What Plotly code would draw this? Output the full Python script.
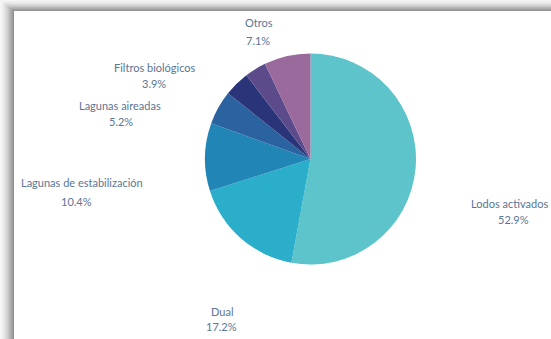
import plotly.graph_objects as go

W, H = 551, 339

# ---- data ----
categories = ["Lodos activados", "Dual", "Lagunas de estabilización",
              "Lagunas aireadas", "Filtros biológicos", "", "Otros"]
values = [52.9, 17.2, 10.4, 5.2, 3.9, 3.3, 7.1]
colors = ["#5CC4CA", "#2BAEC9", "#2185B5", "#2B62A0", "#2A3478", "#5C4B8A", "#9A6A9D"]

# label positions (pixels): name centre (x, y), value centre (x, y)
name_pos = {"Lodos activados": (510, 203), "Dual": (222, 311),
            "Lagunas de estabilización": (82, 183), "Lagunas aireadas": (120, 105),
            "Filtros biológicos": (155, 67), "Otros": (259, 23)}
value_pos = {"Lodos activados": (513, 219), "Dual": (221, 326),
             "Lagunas de estabilización": (76, 201), "Lagunas aireadas": (121, 122),
             "Filtros biológicos": (154, 83), "Otros": (258, 40)}

def px(x):
    return x / W

def py(y):
    return 1 - y / H

cx, cy, r = 310.5, 159, 105.5

fig = go.Figure(go.Pie(
    labels=[c if c else " " for c in categories],
    values=values,
    marker=dict(colors=colors, line=dict(width=0)),
    sort=False,
    direction="clockwise",
    rotation=0,
    textinfo="none",
    hoverinfo="label+percent",
    showlegend=False,
    domain=dict(x=[px(cx - r), px(cx + r)], y=[py(cy + r), py(cy - r)]),
))

shapes = []
# shadow frame on left/top
n = 14
for i in range(n):
    t = i / (n - 1)
    g = int(246 - (246 - 145) * t ** 1.5)
    shapes.append(dict(type="rect", xref="paper", yref="paper", layer="below",
                       x0=px(i), x1=1.02, y0=-0.02, y1=py(i * 11 / 14),
                       fillcolor=f"rgb({g},{g},{g})", line=dict(width=0)))
shapes.append(dict(type="rect", xref="paper", yref="paper", layer="below",
                   x0=px(14), x1=1.02, y0=-0.02, y1=py(11),
                   fillcolor="white", line=dict(width=0)))

annotations = []
font = dict(family="Lato", size=11, color="#5A7595")
for c, v in zip(categories, values):
    if not c:
        continue
    nx, ny = name_pos[c]
    vx, vy = value_pos[c]
    annotations.append(dict(text=c, x=px(nx), y=py(ny), xref="paper", yref="paper",
                            showarrow=False, xanchor="center", yanchor="middle", font=font))
    annotations.append(dict(text=f"{v}%", x=px(vx), y=py(vy), xref="paper", yref="paper",
                            showarrow=False, xanchor="center", yanchor="middle", font=font))

fig.update_layout(
    width=W, height=H,
    margin=dict(l=0, r=0, t=0, b=0),
    paper_bgcolor="white",
    plot_bgcolor="white",
    shapes=shapes,
    annotations=annotations,
)

fig.write_html("out.html")
